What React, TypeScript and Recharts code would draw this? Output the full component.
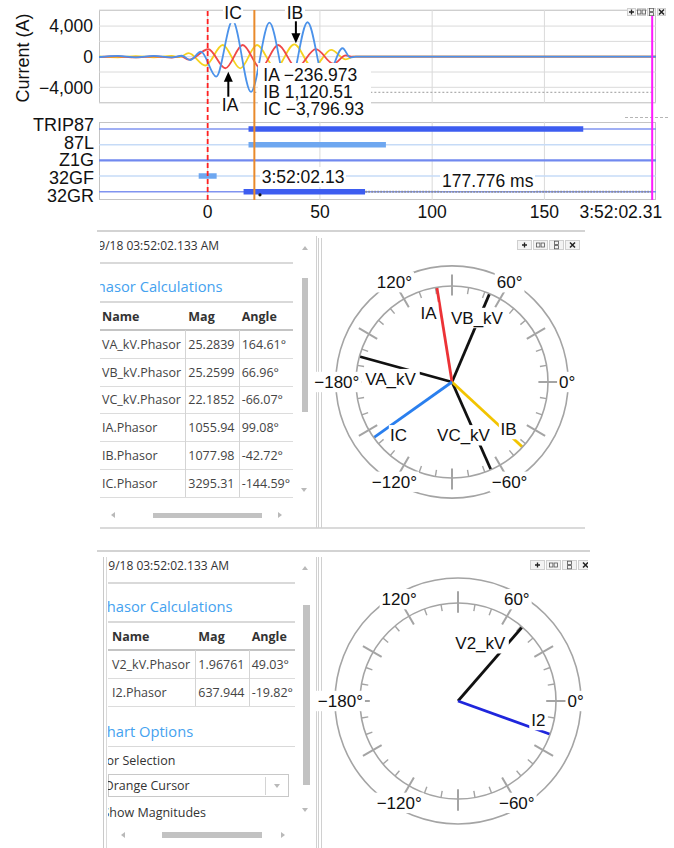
import React from 'react';
import {
  ComposedChart, Line, Scatter, XAxis, YAxis, CartesianGrid, ReferenceLine, ReferenceDot,
} from 'recharts';

const ARIAL = '"Liberation Sans", Arial, sans-serif';
const SEGOE = '"Open Sans", "Noto Sans", sans-serif';

// ---- analog record: time in ms from trigger, current in A
const TIME_RANGE: [number, number] = [-48.4, 199.7];
const TIME_TICKS = [0, 50, 100, 150];
const CURRENT_TICKS = [-4000, -2000, 0, 2000, 4000];
const CURRENT_LABELED = [-4000, 0, 4000];

const IA_WAVE: [number, number][] = [
  [-48.4, -70], [-40.5, 60], [-32.3, -90], [-24.1, 60], [-16, -110], [-12, 70],
  [-8.3, -380], [0.3, 970], [7.9, -1510], [15.6, 1530], [23.6, -1510], [31.4, 1530],
  [39.6, -1450], [48.2, 980], [56, -920], [61.5, 160], [64.5, 0], [199.7, 0],
];
const IB_WAVE: [number, number][] = [
  [-48.4, 50], [-40, -70], [-32, 80], [-24, -70], [-16, 90], [-12.5, -60],
  [-8.5, 470], [-1, -1150], [6.7, 1530], [14.5, -1530], [22, 1530], [30.2, -1530],
  [38.6, 1620], [46.8, -1450], [55, 880], [61.5, -350], [65, 0], [199.7, 0],
];
const IC_WAVE: [number, number][] = [
  [-48.4, -40], [-40, 110], [-32, -80], [-24, 100], [-16, -90], [-11.5, 120],
  [-7.8, -430], [-3, 650], [3.8, -2610], [11.1, 4700], [19.3, -4600], [27.5, 4440],
  [36, -4500], [44.5, 4500], [52.3, -3300], [60.1, 1100], [63.5, -120], [66, 0], [199.7, 0],
];

// cursors
const TRIGGER_T = 0;
const CURSOR_T = 20.8;
const END_T = 198;
const CURSOR_STAMP = '3:52:02.13';
const END_STAMP = '3:52:02.31';
const DELTA_TEXT = '177.776 ms';
const DELTA_LEVEL = -4650;
const CURSOR_VALUES = [['IA', '−236.973'], ['IB', '1,120.51'], ['IC', '−3,796.93']];

// annotations on the current plot (data space)
const WAVE_NOTES = [
  { text: 'IC', t: 11.3, v: 5750 },
  { text: 'IB', t: 38.9, v: 5750 },
  { text: 'IA', t: 10, v: -6250 },
];
const WAVE_ARROWS = [
  { t: 9.2, v: -1960, up: true, len: 25 },
  { t: 39.3, v: 1750, up: false, len: 22 },
];

// ---- digital channels
const CHANNELS = ['TRIP87', '87L', 'Z1G', '32GF', '32GR'];
const CHANNEL_PICKUPS: [number, number][][] = [
  [[18.2, 167.3]],
  [[18.2, 79.4]],
  [],
  [[-4, 4]],
  [[16, 70.1]],
];
const CHANNEL_STYLE = [
  { line: '#8094f0', bar: '#3d5df0', w: 1.6 },
  { line: '#c6dbf7', bar: '#6ea7f0', w: 1.6 },
  { line: '#7189ef', bar: '#3d5df0', w: 2.2 },
  { line: '#c6dbf7', bar: '#6ea7f0', w: 1.6 },
  { line: '#8094f0', bar: '#3d5df0', w: 1.6 },
];

// ---- phasors
const TIMESTAMP = '9/18 03:52:02.133 AM';
const PHASE_QUANTITIES = [
  { name: 'VA_kV', mag: 25.2839, angle: 164.61 },
  { name: 'VB_kV', mag: 25.2599, angle: 66.96 },
  { name: 'VC_kV', mag: 22.1852, angle: -66.07 },
  { name: 'IA', mag: 1055.94, angle: 99.08 },
  { name: 'IB', mag: 1077.98, angle: -42.72 },
  { name: 'IC', mag: 3295.31, angle: -144.59 },
];
const SEQUENCE_QUANTITIES = [
  { name: 'V2_kV', mag: 1.96761, angle: 49.03 },
  { name: 'I2', mag: 637.944, angle: -19.82 },
];
const DIAL_ANGLES = [0, 60, 120, 180, -120, -60];

const PHASOR_COLOR: Record<string, string> = {
  VA_kV: '#111', VB_kV: '#111', VC_kV: '#111', V2_kV: '#111',
  IA: '#ec3236', IB: '#f2c400', IC: '#2a7fee', I2: '#1f26dc',
};
// where the name tags sit, in ring units
const TAG_SPOTS: Record<string, [number, number]> = {
  VA_kV: [-0.64, 0.03], VB_kV: [0.26, 0.667], VC_kV: [0.12, -0.555],
  IA: [-0.244, 0.723], IB: [0.59, -0.49], IC: [-0.556, -0.555],
  V2_kV: [0.228, 0.589], I2: [0.82, -0.194],
};

const RING = '#a4a4a4';
const SEP = '#d9d9d9';

const pts = (w: [number, number][]) => w.map(([t, v]) => ({ t, v }));
const rad = (d: number) => (d * Math.PI) / 180;
const polar = (deg: number, r: number) => ({ x: r * Math.cos(rad(deg)), y: r * Math.sin(rad(deg)) });
const fmtCurrent = (v: number) =>
  CURRENT_LABELED.includes(v) ? (v < 0 ? '−' : '') + Math.abs(v).toLocaleString('en-US') : '';
const angleText = (a: number) => (a === 180 ? '−180°' : a < 0 ? `−${-a}°` : `${a}°`);

const charW = (c: string) =>
  '0123456789'.includes(c) ? 0.556 : c === '°' ? 0.4 : c === '−' ? 0.584 : c === 'I' ? 0.278 : c === ' ' ? 0.278 : 0.64;
const textWidth = (s: string, size: number) => [...s].reduce((a, c) => a + charW(c), 0) * size;

const txt = (x: number, cy: number, size: number, extra: any = {}): any => ({
  position: 'absolute', left: x, top: cy - size * 0.72, fontSize: size, lineHeight: `${size * 1.4}px`,
  whiteSpace: 'nowrap', ...extra,
});
const hl = (x1: number, x2: number, y: number, color = SEP, w = 1): any => ({
  position: 'absolute', left: x1, top: y - w / 2, width: x2 - x1, height: w, background: color,
});
const vl = (x: number, y1: number, y2: number, color = SEP, w = 1): any => ({
  position: 'absolute', left: x - w / 2, top: y1, width: w, height: y2 - y1, background: color,
});

function Tag({ cx, cy, text, size }: any) {
  const w = textWidth(text, size) + 4;
  return (
    <g>
      <rect x={cx - w / 2} y={cy - size * 0.6} width={w} height={size * 1.2} fill="#fff" />
      <text x={cx} y={cy} dy="0.35em" textAnchor="middle" fontSize={size} fontFamily={ARIAL} fill="#111">{text}</text>
    </g>
  );
}

function Arrow({ cx, cy, up, len }: any) {
  const s = up ? 1 : -1;
  return (
    <g>
      <line x1={cx} y1={cy + s * len} x2={cx} y2={cy + s * 8} stroke="#000" strokeWidth={2} />
      <polygon points={`${cx},${cy} ${cx - 4.5},${cy + s * 10} ${cx + 4.5},${cy + s * 10}`} fill="#000" />
    </g>
  );
}

function TimeTick({ x, y, payload }: any) {
  const end = payload.value === END_T;
  return (
    <text x={end ? x + 10 : x} y={y} dy="0.71em" textAnchor={end ? 'end' : 'middle'} fill="#111"
      fontSize={17.5} fontFamily={ARIAL}>
      {end ? END_STAMP : payload.value}
    </text>
  );
}

function Waveform() {
  return (
    <ComposedChart width={674} height={115} margin={{ top: 10, right: 18, bottom: 12, left: 0 }}>
      <CartesianGrid vertical={false} stroke="#dadada" />
      {TIME_TICKS.map((t) => <ReferenceLine key={t} x={t} stroke="#dadada" />)}
      <XAxis type="number" dataKey="t" domain={TIME_RANGE} allowDataOverflow hide />
      <YAxis type="number" domain={[-6050, 6100]} allowDataOverflow ticks={CURRENT_TICKS} interval={0}
        width={99} axisLine={false} tickLine={false} tickMargin={0} tickFormatter={fmtCurrent}
        tick={{ fill: '#111', fontSize: 17.5, fontFamily: ARIAL }} />
      <ReferenceLine segment={[{ x: CURSOR_T, y: DELTA_LEVEL }, { x: END_T, y: DELTA_LEVEL }]}
        stroke="#9a9a9a" strokeDasharray="2 2" />
      <Line data={pts(IB_WAVE)} dataKey="v" type="monotone" stroke="#f5d21f" strokeWidth={1.8} dot={false} isAnimationActive={false} />
      <Line data={pts(IA_WAVE)} dataKey="v" type="monotone" stroke="#f04848" strokeWidth={1.8} dot={false} isAnimationActive={false} />
      <Line data={pts(IC_WAVE)} dataKey="v" type="monotone" stroke="#4b92ea" strokeWidth={1.8} dot={false} isAnimationActive={false} />
      {WAVE_NOTES.map((n) => (
        <ReferenceDot key={n.text} x={n.t} y={n.v} r={1} ifOverflow="visible"
          shape={(p: any) => <Tag cx={p.cx} cy={p.cy} text={n.text} size={17.5} />} />
      ))}
      {WAVE_ARROWS.map((a) => (
        <ReferenceDot key={a.t} x={a.t} y={a.v} r={1} ifOverflow="visible"
          shape={(p: any) => <Arrow cx={p.cx} cy={p.cy} up={a.up} len={a.len} />} />
      ))}
    </ComposedChart>
  );
}

function Digital() {
  const rowY = (i: number) => CHANNELS.length - 1 - i;
  return (
    <ComposedChart width={674} height={115} margin={{ top: 11.7, right: 18, bottom: 0, left: 99 }}>
      {TIME_TICKS.map((t) => <ReferenceLine key={t} x={t} stroke="#dadada" />)}
      <XAxis type="number" dataKey="t" domain={TIME_RANGE} allowDataOverflow ticks={[...TIME_TICKS, END_T]}
        interval={0} height={25} axisLine={false} tickLine={false} tickMargin={0}
        tick={(p: any) => <TimeTick {...p} />} />
      <YAxis type="number" domain={[-0.53, 4.47]} allowDataOverflow hide />
      {CHANNELS.map((c, i) => (
        <ReferenceLine key={c} y={rowY(i)} stroke={CHANNEL_STYLE[i].line} strokeWidth={CHANNEL_STYLE[i].w} />
      ))}
      <ReferenceLine segment={[{ x: CURSOR_T, y: 0 }, { x: END_T, y: 0 }]} stroke="#8c8c8c"
        strokeDasharray="1.5 1.5" strokeWidth={2} />
      {CHANNEL_PICKUPS.flatMap((spans, i) =>
        spans.map(([a, b], k) => (
          <Line key={`${i}-${k}`} data={[{ t: a, v: rowY(i) }, { t: b, v: rowY(i) }]} dataKey="v"
            stroke={CHANNEL_STYLE[i].bar} strokeWidth={5.5} dot={false} isAnimationActive={false} />
        )),
      )}
      <ReferenceDot x={23.3} y={-0.2} r={1.6} fill="#111" stroke="none" />
    </ComposedChart>
  );
}

// vertical cursors drawn across both panels
function Cursors() {
  const span = (t: number) => [{ t, v: 0 }, { t, v: 1 }];
  return (
    <ComposedChart width={674} height={210} margin={{ top: 10, right: 18, bottom: 10, left: 99 }}>
      <XAxis type="number" dataKey="t" domain={TIME_RANGE} allowDataOverflow hide />
      <YAxis type="number" domain={[0, 1]} allowDataOverflow hide />
      <Line data={span(TRIGGER_T)} dataKey="v" stroke="#ff2020" strokeWidth={1.8} strokeDasharray="5 3"
        dot={false} isAnimationActive={false} />
      <Line data={span(CURSOR_T)} dataKey="v" stroke="#e98a2b" strokeWidth={2} dot={false} isAnimationActive={false} />
      <Line data={span(END_T)} dataKey="v" stroke="#ff1aff" strokeWidth={2} dot={false} isAnimationActive={false} />
    </ComposedChart>
  );
}

function Toolbar({ left, top, w, h }: any) {
  const icons = ['plus', 'cols', 'rows', 'x'];
  return (
    <div style={{ position: 'absolute', left, top, display: 'flex', gap: 1 }}>
      {icons.map((k) => (
        <svg key={k} width={w} height={h} style={{ display: 'block' }}>
          <rect x={0.5} y={0.5} width={w - 1} height={h - 1} fill="#f3f3f3" stroke="#cfcfcf" />
          {k === 'plus' && <path d={`M${w / 2 - 2.5} ${h / 2}h5M${w / 2} ${h / 2 - 2.5}v5`} stroke="#222" strokeWidth={1.3} />}
          {k === 'cols' && (
            <g fill="none" stroke="#555" strokeWidth={0.8}>
              <rect x={w / 2 - 4} y={h / 2 - 2} width={3.4} height={4} />
              <rect x={w / 2 + 0.6} y={h / 2 - 2} width={3.4} height={4} />
            </g>
          )}
          {k === 'rows' && (
            <g fill="none" stroke="#555" strokeWidth={0.8}>
              <rect x={w / 2 - 2} y={h / 2 - 3.8} width={4} height={3.2} />
              <rect x={w / 2 - 2} y={h / 2 + 0.6} width={4} height={3.2} />
            </g>
          )}
          {k === 'x' && <path d={`M${w / 2 - 2.5} ${h / 2 - 2.5}l5 5M${w / 2 + 2.5} ${h / 2 - 2.5}l-5 5`} stroke="#222" strokeWidth={1.5} />}
        </svg>
      ))}
    </div>
  );
}

const tri = (cx: number, cy: number, dir: 'up' | 'down' | 'left' | 'right'): any => {
  const c = '#b9b9b9';
  const base: any = { position: 'absolute', width: 0, height: 0 };
  if (dir === 'up') return { ...base, left: cx - 3.5, top: cy - 2, borderLeft: '3.5px solid transparent', borderRight: '3.5px solid transparent', borderBottom: `4px solid ${c}` };
  if (dir === 'down') return { ...base, left: cx - 3.5, top: cy - 2, borderLeft: '3.5px solid transparent', borderRight: '3.5px solid transparent', borderTop: `4px solid ${c}` };
  if (dir === 'left') return { ...base, left: cx - 2, top: cy - 3.5, borderTop: '3.5px solid transparent', borderBottom: '3.5px solid transparent', borderRight: `4px solid ${c}` };
  return { ...base, left: cx - 2, top: cy - 3.5, borderTop: '3.5px solid transparent', borderBottom: '3.5px solid transparent', borderLeft: `4px solid ${c}` };
};

function Clip({ clip, children }: any) {
  return (
    <div style={{ position: 'absolute', left: clip, top: 0, width: 318 - clip, height: 848, overflow: 'hidden' }}>
      <div style={{ position: 'absolute', left: -clip, top: 0 }}>{children}</div>
    </div>
  );
}

function PhasorTable({ dx, dy, right, rows }: any) {
  const cols = [102 + dx, 188.3 + dx, 241.7 + dx];
  const rowH = 27.7;
  const last = 358.5 + rowH * (rows.length - 1) + dy;
  return (
    <>
      <div style={txt(98.3 + dx, 246.7 + dy, 12, { color: '#333', fontFamily: SEGOE })}>{TIMESTAMP}</div>
      <div style={hl(0, right, 263 + dy, SEP, 1.5)} />
      <div style={txt(88 + dx, 286.7 + dy, 14.7, { color: '#45a2ef', fontFamily: SEGOE })}>Phasor Calculations</div>
      <div style={hl(0, right, 302 + dy, SEP, 1.5)} />
      {['Name', 'Mag', 'Angle'].map((h, i) => (
        <div key={h} style={txt(cols[i], 316.7 + dy, 12.5, { color: '#333', fontWeight: 700, fontFamily: SEGOE })}>{h}</div>
      ))}
      <div style={hl(0, right, 330 + dy, '#c4c4c4', 2)} />
      {rows.map((p: any, i: number) => (
        <React.Fragment key={p.name}>
          <div style={txt(cols[0], 345 + rowH * i + dy, 12.5, { color: '#444', fontFamily: SEGOE })}>{`${p.name}.Phasor`}</div>
          <div style={txt(cols[1], 345 + rowH * i + dy, 12.5, { color: '#444', fontFamily: SEGOE })}>{String(p.mag)}</div>
          <div style={txt(cols[2], 345 + rowH * i + dy, 12.5, { color: '#444', fontFamily: SEGOE })}>{`${p.angle.toFixed(2)}°`}</div>
          <div style={hl(0, right, 358.5 + rowH * i + dy, '#dcdcdc', 1)} />
        </React.Fragment>
      ))}
      <div style={vl(185 + dx, 330 + dy, last, '#d4d4d4')} />
      <div style={vl(239 + dx, 330 + dy, last, '#d4d4d4')} />
    </>
  );
}

function PhasorDial({ cx, cy, radius, outer, phasors }: any) {
  const size = 320;
  const span = size / 2 / radius;
  const minor: number[] = [];
  const major: number[] = [];
  for (let a = -180; a < 180; a += 10) (a % 30 === 0 ? major : minor).push(a);
  const tags = [
    ...DIAL_ANGLES.map((a) => ({ ...polar(a, 1.2), text: angleText(a) })),
    ...phasors.map((p: any) => ({ x: TAG_SPOTS[p.name][0], y: TAG_SPOTS[p.name][1], text: p.name })),
  ];
  return (
    <div style={{ position: 'absolute', left: cx - size / 2, top: cy - size / 2 }}>
      <ComposedChart width={size} height={size} margin={{ top: 0, right: 0, bottom: 0, left: 0 }}>
        <XAxis type="number" dataKey="x" domain={[-span, span]} allowDataOverflow hide />
        <YAxis type="number" dataKey="y" domain={[-span, span]} allowDataOverflow hide />
        <ReferenceDot x={0} y={0} r={radius * outer} fill="none" stroke={RING} strokeWidth={1.6} />
        <ReferenceDot x={0} y={0} r={radius} fill="none" stroke={RING} strokeWidth={1.6} />
        {minor.map((a) => (
          <ReferenceLine key={`m${a}`} segment={[polar(a, 0.93), polar(a, 1)]} stroke={RING} strokeWidth={1.4} />
        ))}
        {major.map((a) => (
          <ReferenceLine key={`M${a}`} segment={[polar(a, 0.9), polar(a, 1.12)]} stroke={RING} strokeWidth={2} />
        ))}
        {phasors.map((p: any) => (
          <Line key={p.name} data={[polar(p.angle, 0), polar(p.angle, 1)]} dataKey="y"
            stroke={PHASOR_COLOR[p.name]} strokeWidth={2.8} dot={false} isAnimationActive={false} />
        ))}
        <Scatter data={tags} isAnimationActive={false}
          shape={(s: any) => <Tag cx={s.cx} cy={s.cy} text={s.payload.text} size={17} />} />
      </ComposedChart>
    </div>
  );
}

export default function App() {
  return (
    <div style={{ position: 'relative', width: 674, height: 848, background: '#fff', overflow: 'hidden', fontFamily: ARIAL, color: '#111' }}>
      <style>{'body{margin:0}'}</style>

      {/* ---- record view ---- */}
      <div style={{ position: 'absolute', left: 99, top: 10, width: 557, height: 93, border: '1px solid #c4c4c4', boxSizing: 'border-box' }} />
      <div style={{ position: 'absolute', left: 99, top: 121.7, width: 557, height: 78.3, border: '1px solid #c4c4c4', boxSizing: 'border-box' }} />
      <div style={{ position: 'absolute', left: 0, top: 0 }}><Waveform /></div>
      <div style={{ position: 'absolute', left: 0, top: 110 }}><Digital /></div>
      <div style={{ position: 'absolute', left: 22.5, top: 57.5, transform: 'translate(-50%,-50%) rotate(-90deg)', fontSize: 18, lineHeight: '20px', whiteSpace: 'nowrap' }}>
        Current (A)
      </div>
      <div style={{ position: 'absolute', left: 0, top: 116.8, width: 94, textAlign: 'right', fontSize: 18, lineHeight: '17.8px' }}>
        {CHANNELS.map((c) => <div key={c}>{c}</div>)}
      </div>
      <div style={{ position: 'absolute', left: 257.5, top: 63, width: 113, height: 56, background: '#fff', padding: '4px 0 0 5.8px', boxSizing: 'border-box', fontSize: 17.5, lineHeight: '16.8px' }}>
        {CURSOR_VALUES.map(([n, v]) => <div key={n} style={{ whiteSpace: 'nowrap' }}>{n} {v}</div>)}
      </div>
      <div style={{ position: 'absolute', left: 259.7, top: 176.7 - 10, fontSize: 17.5, lineHeight: '20px', background: '#fff', padding: '0 2px', whiteSpace: 'nowrap' }}>{CURSOR_STAMP}</div>
      <div style={{ position: 'absolute', left: 440, top: 181 - 10, fontSize: 17.5, lineHeight: '20px', background: '#fff', padding: '0 2px', whiteSpace: 'nowrap' }}>{DELTA_TEXT}</div>
      <div style={{ position: 'absolute', left: 625, top: 116.5, width: 43, borderTop: '1px dashed #b5b5b5' }} />
      <div style={{ position: 'absolute', left: 0, top: 0, pointerEvents: 'none' }}><Cursors /></div>
      <Toolbar left={627} top={8} w={9} h={8} />

      {/* ---- phase phasors ---- */}
      <div style={hl(97, 585, 230.5, '#d3d3d3', 2)} />
      <div style={hl(100, 585, 528, '#dadada', 1.5)} />
      <Clip clip={100}>
        <PhasorTable dx={0} dy={0} right={293} rows={PHASE_QUANTITIES} />
      </Clip>
      <div style={tri(305, 248.3, 'up')} />
      <div style={{ position: 'absolute', left: 302.3, top: 278.3, width: 6, height: 133.4, background: '#c2c2c2' }} />
      <div style={tri(304.3, 490, 'down')} />
      <div style={tri(113.3, 515, 'left')} />
      <div style={{ position: 'absolute', left: 153.3, top: 513.3, width: 108.4, height: 5, background: '#c2c2c2' }} />
      <div style={tri(280, 515, 'right')} />
      <div style={vl(316.5, 236, 528, '#d0d0d0')} />
      <div style={vl(318.5, 238, 528, '#d0d0d0')} />
      <div style={vl(321.5, 238, 528, '#d0d0d0')} />
      <Toolbar left={517} top={240} w={15} h={10} />
      <PhasorDial cx={451.7} cy={381.7} radius={96} outer={1.21} phasors={PHASE_QUANTITIES} />

      {/* ---- sequence phasors ---- */}
      <div style={hl(97, 590, 550.5, '#d3d3d3', 2)} />
      <Clip clip={108.3}>
        <PhasorTable dx={10} dy={320} right={295} rows={SEQUENCE_QUANTITIES} />
        <div style={txt(97.5, 731.7, 14.7, { color: '#45a2ef', fontFamily: SEGOE })}>Chart Options</div>
        <div style={hl(0, 295, 746.7, SEP, 1.5)} />
        <div style={txt(80, 761, 12.5, { color: '#333', fontFamily: SEGOE })}>Cursor Selection</div>
        <div style={{ position: 'absolute', left: 107.8, top: 774.3, width: 181.5, height: 22.4, border: '1px solid #c8c8c8', boxSizing: 'border-box' }} />
        <div style={txt(104, 785.5, 12.5, { color: '#333', fontFamily: SEGOE })}>Orange Cursor</div>
        <div style={vl(265.7, 776.5, 795, '#d4d4d4')} />
        <div style={tri(277, 785.5, 'down')} />
        <div style={txt(102.5, 813.3, 12.5, { color: '#333', fontFamily: SEGOE })}>Show Magnitudes</div>
      </Clip>
      <div style={vl(103.5, 557, 848, '#cacaca')} />
      <div style={vl(106.5, 557, 848, '#dadada')} />
      <div style={tri(305, 568.3, 'up')} />
      <div style={{ position: 'absolute', left: 303.3, top: 605, width: 6.7, height: 180, background: '#c2c2c2' }} />
      <div style={tri(305, 810, 'down')} />
      <div style={tri(123.3, 835, 'left')} />
      <div style={{ position: 'absolute', left: 161.7, top: 832, width: 100, height: 6, background: '#c2c2c2' }} />
      <div style={tri(283.3, 835, 'right')} />
      <div style={vl(316.5, 557, 848, '#d0d0d0')} />
      <div style={vl(318.5, 557, 848, '#d0d0d0')} />
      <div style={vl(321.5, 557, 848, '#d0d0d0')} />
      <div style={{ position: 'absolute', left: 0, top: 0, width: 588, height: 848, overflow: 'hidden', pointerEvents: 'none' }}>
        <Toolbar left={530} top={560} w={15} h={10} />
      </div>
      <PhasorDial cx={457.7} cy={701} radius={98} outer={1.255} phasors={SEQUENCE_QUANTITIES} />
    </div>
  );
}
